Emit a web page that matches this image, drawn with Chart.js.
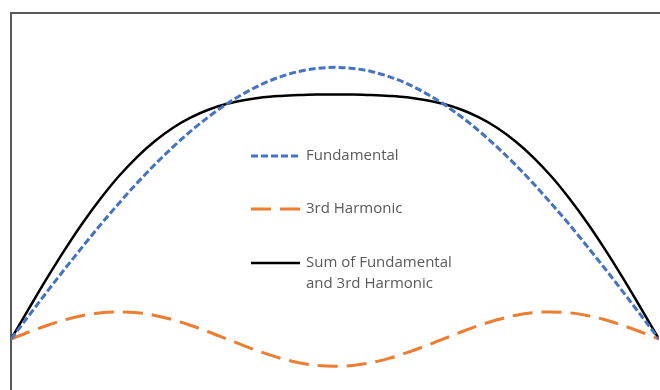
<!DOCTYPE html>
<html>
<head>
<meta charset="utf-8">
<script src="https://cdn.jsdelivr.net/npm/chart.js@4"></script>
<style>
  html, body { margin: 0; padding: 0; background: #fff; overflow: hidden; }
  #wrap { position: relative; width: 660px; height: 390px; }
  #frame {
    position: absolute; left: 10px; top: 12px; width: 660px; height: 400px;
    border-top: 2px solid #595959; border-left: 2px solid #595959;
    box-sizing: border-box;
  }
  canvas { position: absolute; left: 0; top: 0; }
</style>
</head>
<body>
<div id="wrap">
  <div id="frame"></div>
  <canvas id="waveChart" width="660" height="390"></canvas>
</div>
<script>
// phase angle in degrees, half a period of the fundamental
const angles = [0, 5, 10, 15, 20, 25, 30, 35, 40, 45, 50, 55, 60, 65, 70, 75, 80, 85, 90,
  95, 100, 105, 110, 115, 120, 125, 130, 135, 140, 145, 150, 155, 160, 165, 170, 175, 180];
const fundamental = [0, 0.087, 0.174, 0.259, 0.342, 0.423, 0.5, 0.574, 0.643, 0.707, 0.766, 0.819, 0.866, 0.906, 0.94, 0.966, 0.985, 0.996, 1,
  0.996, 0.985, 0.966, 0.94, 0.906, 0.866, 0.819, 0.766, 0.707, 0.643, 0.574, 0.5, 0.423, 0.342, 0.259, 0.174, 0.087, 0];
const thirdHarmonic = [0, 0.026, 0.05, 0.071, 0.087, 0.097, 0.1, 0.097, 0.087, 0.071, 0.05, 0.026, 0, -0.026, -0.05, -0.071, -0.087, -0.097, -0.1,
  -0.097, -0.087, -0.071, -0.05, -0.026, 0, 0.026, 0.05, 0.071, 0.087, 0.097, 0.1, 0.097, 0.087, 0.071, 0.05, 0.026, 0];
const sumWave = [0, 0.113, 0.224, 0.33, 0.429, 0.519, 0.6, 0.67, 0.729, 0.778, 0.816, 0.845, 0.866, 0.88, 0.89, 0.895, 0.898, 0.9, 0.9,
  0.9, 0.898, 0.895, 0.89, 0.88, 0.866, 0.845, 0.816, 0.778, 0.729, 0.67, 0.6, 0.519, 0.429, 0.33, 0.224, 0.113, 0];
const legendLabels = [['Fundamental'], ['3rd Harmonic'], ['Sum of Fundamental', 'and 3rd Harmonic']];

function toPoints(values) {
  return values.map((v, i) => ({ x: angles[i], y: v }));
}

// legend drawn inside the plot, one row per series
const insideLegend = {
  id: 'insideLegend',
  afterDraw(chart) {
    const ctx = chart.ctx;
    const rows = [156, 209, 263];
    ctx.save();
    chart.data.datasets.forEach((ds, i) => {
      const y = rows[i];
      ctx.beginPath();
      ctx.strokeStyle = ds.borderColor;
      ctx.lineWidth = ds.borderWidth;
      ctx.setLineDash(ds.borderDash || []);
      ctx.moveTo(251, y);
      ctx.lineTo(300, y);
      ctx.stroke();
      ctx.setLineDash([]);
      ctx.fillStyle = '#595959';
      ctx.font = '15px "Open Sans"';
      ctx.textBaseline = 'middle';
      legendLabels[i].forEach((line, j) => {
        ctx.fillText(line, 306, y + j * 21);
      });
    });
    ctx.restore();
  }
};

const ctx = document.getElementById('waveChart').getContext('2d');

new Chart(ctx, {
  type: 'line',
  data: {
    datasets: [{
      label: 'Fundamental',
      data: toPoints(fundamental),
      borderColor: '#4472C4',
      borderWidth: 3,
      borderDash: [7, 3],
      pointRadius: 0,
      cubicInterpolationMode: 'monotone'
    }, {
      label: '3rd Harmonic',
      data: toPoints(thirdHarmonic),
      borderColor: '#ED7D31',
      borderWidth: 3,
      borderDash: [20, 9],
      pointRadius: 0,
      cubicInterpolationMode: 'monotone'
    }, {
      label: 'Sum of Fundamental and 3rd Harmonic',
      data: toPoints(sumWave),
      borderColor: '#000000',
      borderWidth: 2.5,
      pointRadius: 0,
      cubicInterpolationMode: 'monotone'
    }]
  },
  options: {
    responsive: false,
    animation: false,
    layout: { padding: { left: 11, right: 1, top: 13, bottom: 2 } },
    scales: {
      x: { type: 'linear', min: 0, max: 180, display: false },
      y: { min: -0.18, max: 1.2, display: false }
    },
    plugins: {
      legend: { display: false },
      tooltip: { enabled: false }
    }
  },
  plugins: [insideLegend]
});
</script>
</body>
</html>
